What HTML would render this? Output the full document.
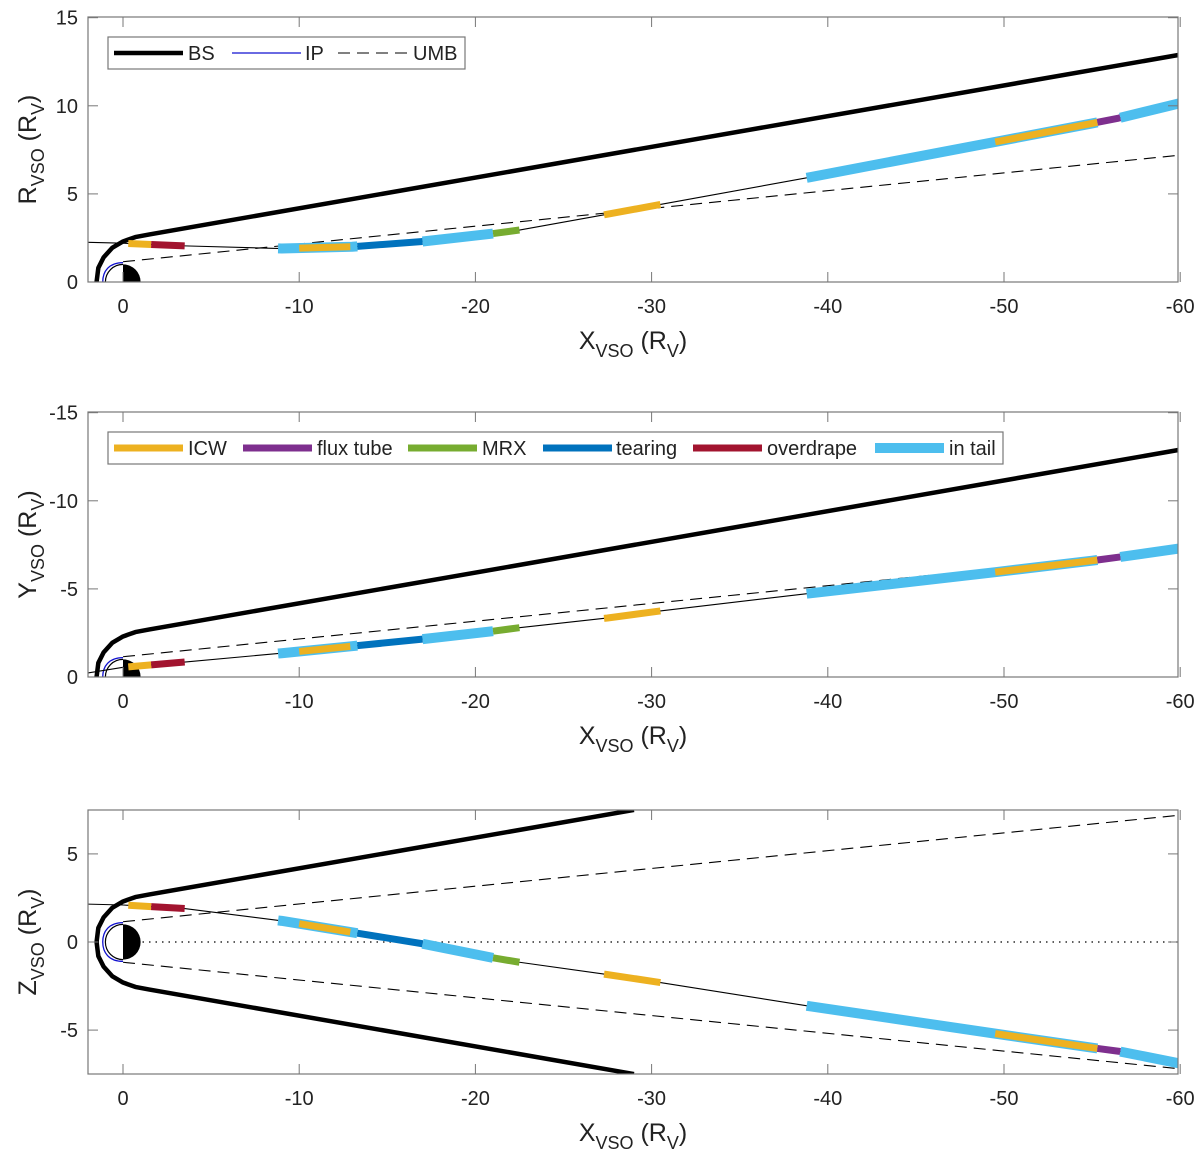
<!DOCTYPE html>
<html><head><meta charset="utf-8"><style>
html,body{margin:0;padding:0;background:#fff;}
svg{display:block;font-family:"Liberation Sans",sans-serif;}
</style></head><body>
<svg id="chart" width="1200" height="1160" viewBox="0 0 1200 1160"></svg>
<script>
// ---- data ----
const trajX = [2, 0, -3.5, -9, -13, -17, -21, -22.5, -27.5, -30.5, -39, -49.5, -55, -56.5, -60];
const trajR = [2.25, 2.2, 2.05, 1.9, 2.0, 2.3, 2.75, 2.95, 3.85, 4.4, 5.95, 7.95, 9.0, 9.3, 10.15];
const trajY = [0.23, 0.55, 0.85, 1.35, 1.75, 2.15, 2.6, 2.8, 3.35, 3.75, 4.75, 5.95, 6.6, 6.8, 7.3];
const trajZ = [2.15, 2.1, 1.9, 1.2, 0.55, -0.1, -0.9, -1.15, -1.85, -2.3, -3.65, -5.2, -6.0, -6.2, -6.9];
const segStart = [-8.8, -17, -38.8, -56.6, -0.3, -10, -27.3, -49.5, -1.6, -13.3, -21, -55.3];
const segEnd   = [-13.3, -21, -55.3, -60, -1.6, -12.9, -30.5, -55.3, -3.5, -17, -22.5, -56.6];
const segType  = ['tail','tail','tail','tail','icw','icw','icw','icw','over','tear','mrx','flux'];
const bsX = [1.5, 1.4, 1.1, 0.6, 0, -0.7, -1.5, -60];
const bsR = [0, 0.8, 1.4, 1.95, 2.3, 2.55, 2.7, 12.9];
const umbX = [0, -60];
const umbR = [1.15, 7.2];
const xTicks = [0, -10, -20, -30, -40, -50, -60];
const legend1 = ['BS', 'IP', 'UMB'];
const legend2 = ['ICW', 'flux tube', 'MRX', 'tearing', 'overdrape', 'in tail'];
const legend2Keys = ['icw', 'flux', 'mrx', 'tear', 'over', 'tail'];

const COLORS = {icw:'#EDB120', flux:'#7E2F8E', mrx:'#77AC30', tear:'#0072BD', over:'#A2142F', tail:'#4DBEEE'};
const NS = 'http://www.w3.org/2000/svg';
const svg = document.getElementById('chart');
const S = 17.62, X0 = 123, XL = 88, XR = 1178;
function mk(tag, attrs, parent){const e=document.createElementNS(NS,tag);for(const k in attrs)e.setAttribute(k,attrs[k]);(parent||svg).appendChild(e);return e;}
function interp(xs, vs, x){for(let i=0;i<xs.length-1;i++){if(x<=xs[i]&&x>=xs[i+1]){const t=(x-xs[i])/(xs[i+1]-xs[i]);return vs[i]+t*(vs[i+1]-vs[i]);}}return vs[vs.length-1];}

const panels = [
 {id:'p1', top:17, bot:282, zero:282, sign:1, vals:trajR, yTicks:[0,5,10,15], yLab:['0','5','10','15'], ylabel:'R', mirror:false, clipBS:null},
 {id:'p2', top:412, bot:677, zero:677, sign:1, vals:trajY, yTicks:[0,5,10,15], yLab:['0','-5','-10','-15'], ylabel:'Y', mirror:false, clipBS:null},
 {id:'p3', top:810, bot:1074, zero:942, sign:1, vals:trajZ, yTicks:[-5,0,5], yLab:['-5','0','5'], ylabel:'Z', mirror:true, clipBS:-29}
];

panels.forEach((p,pi)=>{
  const g = mk('g',{});
  
  
  const px = X => X0 - X*S;
  const py = v => p.zero - v*S;
  mk('clipPath',{id:'clip'+pi},g).appendChild(Object.assign(document.createElementNS(NS,'rect'),{}));
  const cr = g.querySelector('clipPath rect');
  cr.setAttribute('x',XL); cr.setAttribute('y',p.top); cr.setAttribute('width',XR-XL); cr.setAttribute('height',p.bot-p.top);
  const pg = mk('g',{'clip-path':'url(#clip'+pi+')'},g);
  // Venus
  const rv = S;
  mk('path',{d:`M${X0},${py(1)} A${rv},${rv} 0 0 1 ${X0},${py(-1)} Z`,fill:'#000'},pg);
  mk('path',{d:`M${X0},${py(1)} A${rv},${rv} 0 0 0 ${X0},${py(-1)}`,fill:'#fff',stroke:'#000','stroke-width':1.2},pg);
  if(p.mirror){mk('line',{x1:X0,y1:py(0),x2:px(-60),y2:py(0),stroke:'#000','stroke-width':1.3,'stroke-dasharray':'1.5 5'},pg);}
  // IP
  const ipd = `M${px(0)},${py(1.1)} C${px(0.8)},${py(1.1)} ${px(1.15)},${py(0.6)} ${px(1.15)},${py(0)} C${px(1.15)},${py(-0.6)} ${px(0.8)},${py(-1.1)} ${px(0)},${py(-1.1)}`;
  const ip = mk('path',{d:ipd,fill:'none',stroke:'#1010d0','stroke-width':1.3},pg);
   
  // UMB
  const umbDraw = s => {const l=mk('line',{x1:px(umbX[0]),y1:py(s*umbR[0]),x2:px(umbX[1]),y2:py(s*umbR[1]),stroke:'#000','stroke-width':1.1,'stroke-dasharray':'12 7'},pg);
     };
  umbDraw(1); if(p.mirror) umbDraw(-1);
  // BS
  const bsPath = s => {let d='';const xs=bsX.slice(), rs=bsR.slice();
    if(p.clipBS!==null){const n=xs.length-1;const r=interp(xs,rs,p.clipBS);xs[n]=p.clipBS;rs[n]=r;}
    xs.forEach((x,i)=>{d+=(i?'L':'M')+px(x)+','+py(s*rs[i]);});return d;};
  let bd = bsPath(1);
  if(p.mirror){ // full symmetric
    const up = bsPath(1), dn = bsPath(-1);
    const bl = mk('path',{d:dn,fill:'none',stroke:'#000','stroke-width':4.5,'stroke-linejoin':'round'},pg);
     
  } else {
    // also draw slight lower part near nose
    const dn = bsPath(-1);
    mk('path',{d:dn,fill:'none',stroke:'#000','stroke-width':4.5},pg);
  }
  const bs = mk('path',{d:bd,fill:'none',stroke:'#000','stroke-width':4.5,'stroke-linejoin':'round'},pg);
   
  // trajectory
  let td=''; trajX.forEach((x,i)=>{td+=(i?'L':'M')+px(x)+','+py(p.vals[i]);});
  const tr = mk('path',{d:td,fill:'none',stroke:'#000','stroke-width':1.1},pg);
   
  // segments
  segType.forEach((t,i)=>{
    const a=segStart[i], b=segEnd[i];
    let d=''; const pts=[a];
    trajX.forEach(x=>{if(x<a&&x>b)pts.push(x);}); pts.push(b);
    pts.forEach((x,k)=>{d+=(k?'L':'M')+px(x)+','+py(interp(trajX,p.vals,x));});
    const s=mk('path',{d:d,fill:'none',stroke:COLORS[t],'stroke-width':t==='tail'?10:7,'stroke-linejoin':'round'},pg);
     
  });
  // frame
  const fr = mk('rect',{x:XL,y:p.top,width:XR-XL,height:p.bot-p.top,fill:'none',stroke:'#777','stroke-width':1.2},g);
   
  xTicks.forEach(x=>{
    mk('line',{x1:px(x),y1:p.bot,x2:px(x),y2:p.bot-10,stroke:'#777'},g);
    mk('line',{x1:px(x),y1:p.top,x2:px(x),y2:p.top+10,stroke:'#777'},g);
    const t=mk('text',{x:px(x),y:p.bot+31,'text-anchor':'middle','font-size':20,fill:'#222'},g);
    t.textContent = x===0?'0':String(x);
     
  });
  p.yTicks.forEach((v,i)=>{
    mk('line',{x1:XL,y1:py(v),x2:XL+10,y2:py(v),stroke:'#777'},g);
    mk('line',{x1:XR,y1:py(v),x2:XR-10,y2:py(v),stroke:'#777'},g);
    const t=mk('text',{x:XL-10,y:py(v)+7,'text-anchor':'end','font-size':20,fill:'#222'},g);
    t.textContent=p.yLab[i];
     
  });
  const xt=mk('text',{x:633,y:p.bot+67,'text-anchor':'middle','font-size':25,fill:'#222'},g);
  xt.innerHTML='X<tspan font-size="18" dy="8">VSO</tspan><tspan dy="-8"> (R</tspan><tspan font-size="18" dy="8">V</tspan><tspan dy="-8">)</tspan>';
   
  const cy=(p.top+p.bot)/2;
  const yt=mk('text',{x:0,y:0,'text-anchor':'middle','font-size':25,fill:'#222',transform:`translate(36,${cy}) rotate(-90)`},g);
  yt.innerHTML=p.ylabel+'<tspan font-size="18" dy="8">VSO</tspan><tspan dy="-8"> (R</tspan><tspan font-size="18" dy="8">V</tspan><tspan dy="-8">)</tspan>';
   
});

// legend 1
(function(){
  const g=mk('g',{});
   
  mk('rect',{x:108,y:37,width:357,height:32,fill:'#fff',stroke:'#777','stroke-width':1.2},g);
  const lx=[114,232,338], tx=[188,305,413], sty=[{w:4.5,da:'none',c:'#000'},{w:1.3,da:'none',c:'#1010d0'},{w:1.1,da:'12 7',c:'#000'}];
  legend1.forEach((n,i)=>{
    mk('line',{x1:lx[i],y1:53,x2:lx[i]+69,y2:53,stroke:sty[i].c,'stroke-width':sty[i].w,'stroke-dasharray':sty[i].da},g);
    const t=mk('text',{x:tx[i],y:60,'font-size':20,fill:'#222'},g); t.textContent=n;
     
  });
})();
// legend 2
(function(){
  const g=mk('g',{});
   
  mk('rect',{x:108,y:432,width:895,height:32,fill:'#fff',stroke:'#777','stroke-width':1.2},g);
  const lx=[114,243,408,543,693,875], tx=[188,317,482,616,767,949];
  legend2.forEach((n,i)=>{
    mk('line',{x1:lx[i],y1:448,x2:lx[i]+69,y2:448,stroke:COLORS[legend2Keys[i]],'stroke-width':legend2Keys[i]==='tail'?10:7},g);
    const t=mk('text',{x:tx[i],y:455,'font-size':20,fill:'#222'},g); t.textContent=n;
     
  });
})();
</script>
</body></html>
